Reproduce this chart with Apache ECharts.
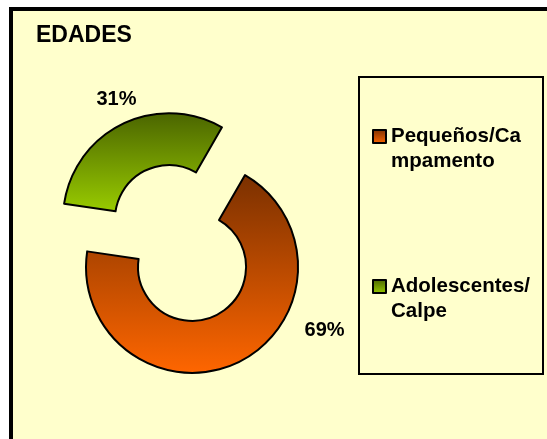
<!DOCTYPE html>
<html>
<head>
  <meta charset="utf-8">
  <title>EDADES</title>
  <script type="text/javascript" src="https://cdn.jsdelivr.net/npm/echarts@6/dist/echarts.min.js"></script>
  <style>
    body { margin: 0; padding: 0; background: #fff; }
    #chartmain { width: 547px; height: 439px; }
  </style>
</head>
<body>
<div id="chartmain"></div>
<script type="text/javascript">
  // datos
  var categories = ['Pequeños/Campamento', 'Adolescentes/Calpe'];
  var values = [69, 31];

  // degradados (arriba oscuro -> abajo claro)
  var topColors = ['#7a3000', '#4a6400'];
  var bottomColors = ['#ff6600', '#99cc00'];
  // desplazamiento de las etiquetas (como las coloca Excel)
  var labelShift = [[57, -41], [23, -15]];

  var pieData = categories.map(function (name, i) {
    return {
      name: name,
      value: values[i],
      selected: true,
      itemStyle: {
        color: new echarts.graphic.LinearGradient(0, 0, 0, 1, [
          { offset: 0, color: topColors[i] },
          { offset: 1, color: bottomColors[i] }
        ])
      }
    };
  });

  var myChart = echarts.init(document.getElementById('chartmain'));
  var option = {
    animation: false,
    backgroundColor: '#ffffff',
    textStyle: { fontFamily: 'Liberation Sans, Arial, sans-serif' },
    graphic: [
      {
        type: 'rect',
        z: -10,
        shape: { x: 11, y: 9, width: 600, height: 500 },
        style: { fill: '#ffffcc', stroke: '#000', lineWidth: 4 }
      },
      {
        type: 'rect',
        z: -5,
        shape: { x: 359, y: 77, width: 184, height: 297 },
        style: { fill: 'none', stroke: '#000', lineWidth: 2 }
      }
    ],
    title: {
      text: 'EDADES',
      left: 36,
      top: 24,
      padding: 0,
      textStyle: { fontSize: 23, fontWeight: 'bold', color: '#000' }
    },
    legend: {
      orient: 'vertical',
      left: 372,
      top: 99,
      padding: 0,
      itemGap: 75,
      itemWidth: 13,
      itemHeight: 13,
      icon: 'rect',
      selectedMode: false,
      data: categories,
      // linea vacia arriba: asi la primera linea queda al lado del cuadro
      formatter: function (name) { return '\n' + name; },
      itemStyle: { borderColor: '#000', borderWidth: 2 },
      textStyle: {
        fontSize: 20.5,
        fontWeight: 'bold',
        color: '#000',
        lineHeight: 25,
        width: 142,
        overflow: 'breakAll'
      }
    },
    series: [
      {
        name: 'EDADES',
        type: 'pie',
        center: [180.5, 243],
        radius: [54, 106],
        startAngle: 60,
        selectedMode: 'multiple',
        selectedOffset: 26.5,
        avoidLabelOverlap: false,
        itemStyle: { borderColor: '#000', borderWidth: 2 },
        emphasis: { disabled: true },
        label: {
          show: true,
          position: 'outside',
          formatter: '{c}%',
          fontSize: 20,
          fontWeight: 'bold',
          color: '#000'
        },
        labelLine: { show: false, length: 10, length2: 0 },
        labelLayout: function (params) {
          var s = labelShift[params.dataIndex];
          return { dx: s[0], dy: s[1] };
        },
        data: pieData
      }
    ]
  };
  myChart.setOption(option);
</script>
</body>
</html>
